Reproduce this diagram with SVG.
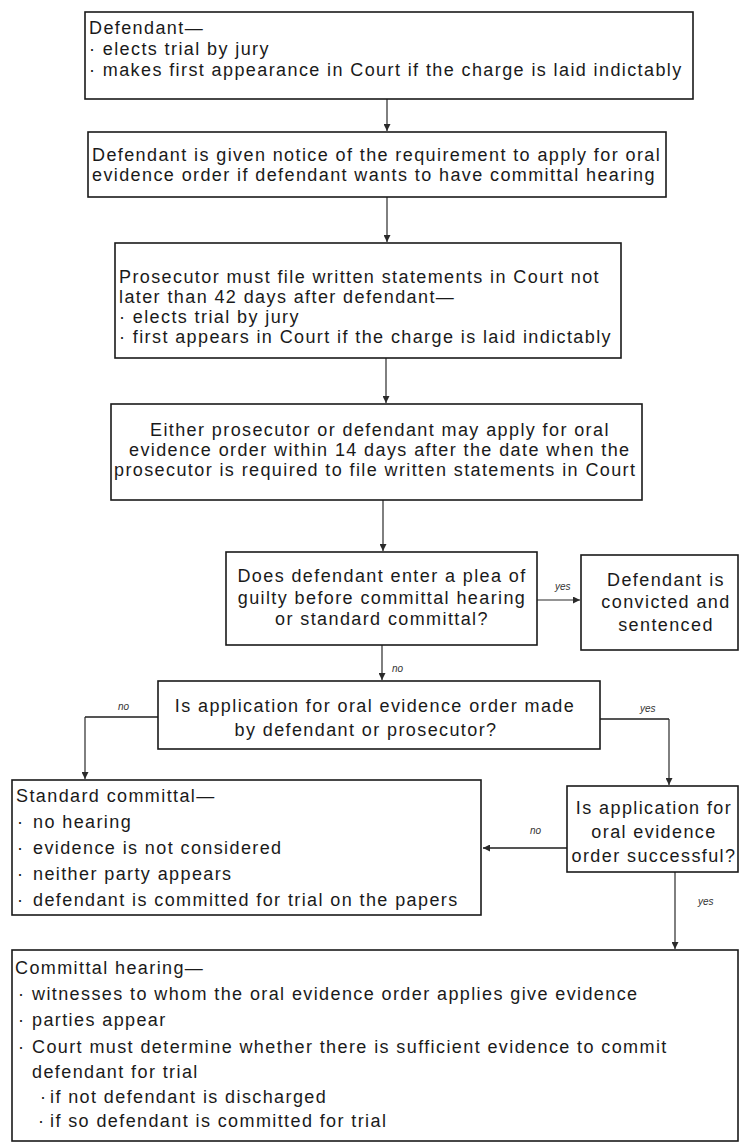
<svg xmlns="http://www.w3.org/2000/svg" width="740" height="1144" viewBox="0 0 740 1144">
<style>
.box{fill:#fff;stroke:#1a1a1a;stroke-width:1.6}
.t{font-family:"Liberation Sans",Arial,sans-serif;font-size:18px;letter-spacing:1.4px;fill:#1a1a1a}
.c{text-anchor:middle}
.conn{stroke:#2a2a2a;stroke-width:1.2;fill:none}
.dbl{stroke:#555;stroke-width:2}
.lbl{font-family:"Liberation Sans",Arial,sans-serif;font-size:10px;font-style:italic;fill:#333}
</style>
<defs>
<marker id="ah" markerUnits="userSpaceOnUse" markerWidth="8" markerHeight="7" refX="7" refY="3.5" orient="auto">
<path d="M0,0 L7,3.5 L0,7 z" fill="#2a2a2a"/>
</marker>
</defs>
<rect width="740" height="1144" fill="#fff"/>

<g id="connectors">
<line class="conn" x1="387" y1="99" x2="387" y2="131" marker-end="url(#ah)"/>
<line class="conn" x1="387" y1="197" x2="387" y2="242" marker-end="url(#ah)"/>
<line class="conn" x1="386" y1="358" x2="386" y2="403" marker-end="url(#ah)"/>
<line class="conn" x1="383" y1="500" x2="383" y2="551" marker-end="url(#ah)"/>
<line class="conn" x1="537" y1="600" x2="580" y2="600" marker-end="url(#ah)"/>
<text class="lbl" x="555" y="590">yes</text>
<line class="conn" x1="382" y1="645" x2="382" y2="680" marker-end="url(#ah)"/>
<text class="lbl" x="392" y="672">no</text>
<polyline class="conn dbl" points="158,717 85,717"/>
<line class="conn" x1="85" y1="717" x2="85" y2="779" marker-end="url(#ah)"/>
<text class="lbl" x="118" y="710">no</text>
<polyline class="conn dbl" points="600,719 669,719"/>
<line class="conn" x1="669" y1="719" x2="669" y2="785" marker-end="url(#ah)"/>
<text class="lbl" x="640" y="712">yes</text>
<line class="conn dbl" x1="567" y1="848" x2="483" y2="848" marker-end="url(#ah)"/>
<text class="lbl" x="530" y="834">no</text>
<line class="conn" x1="675" y1="872" x2="675" y2="949" marker-end="url(#ah)"/>
<text class="lbl" x="698" y="905">yes</text>
</g>

<g id="n1">
<rect class="box" x="85" y="12" width="608" height="87"/>
<text class="t" x="89" y="34">Defendant—</text>
<text class="t" x="89" y="55">· elects trial by jury</text>
<text class="t" x="89" y="76">· makes first appearance in Court if the charge is laid indictably</text>
</g>

<g id="n2">
<rect class="box" x="88" y="132" width="578" height="65"/>
<text class="t" x="92" y="161">Defendant is given notice of the requirement to apply for oral</text>
<text class="t" x="92" y="181">evidence order if defendant wants to have committal hearing</text>
</g>

<g id="n3">
<rect class="box" x="115" y="243" width="506" height="115"/>
<text class="t" x="119" y="283">Prosecutor must file written statements in Court not</text>
<text class="t" x="119" y="303">later than 42 days after defendant—</text>
<text class="t" x="119" y="323">· elects trial by jury</text>
<text class="t" x="119" y="343">· first appears in Court if the charge is laid indictably</text>
</g>

<g id="n4">
<rect class="box" x="111" y="404" width="531" height="96"/>
<text class="t" x="150" y="436">Either prosecutor or defendant may apply for oral</text>
<text class="t" x="129" y="456">evidence order within 14 days after the date when the</text>
<text class="t" x="114" y="476">prosecutor is required to file written statements in Court</text>
</g>

<g id="n5">
<rect class="box" x="226" y="552" width="311" height="93"/>
<text class="t c" x="382" y="582">Does defendant enter a plea of</text>
<text class="t c" x="382" y="604">guilty before committal hearing</text>
<text class="t c" x="382" y="625">or standard committal?</text>
</g>

<g id="n6">
<rect class="box" x="581" y="555" width="157" height="95"/>
<text class="t c" x="666" y="586">Defendant is</text>
<text class="t c" x="666" y="608">convicted and</text>
<text class="t c" x="666" y="631">sentenced</text>
</g>

<g id="n7">
<rect class="box" x="158" y="681" width="442" height="68"/>
<text class="t c" x="375" y="712">Is application for oral evidence order made</text>
<text class="t c" x="366" y="736">by defendant or prosecutor?</text>
</g>

<g id="n8">
<rect class="box" x="12" y="780" width="469" height="135"/>
<text class="t" x="16" y="802">Standard committal—</text>
<text class="t"><tspan x="17" y="828">·</tspan><tspan x="33" y="828">no hearing</tspan></text>
<text class="t"><tspan x="17" y="854">·</tspan><tspan x="33" y="854">evidence is not considered</tspan></text>
<text class="t"><tspan x="17" y="880">·</tspan><tspan x="33" y="880">neither party appears</tspan></text>
<text class="t"><tspan x="17" y="906">·</tspan><tspan x="33" y="906">defendant is committed for trial on the papers</tspan></text>
</g>

<g id="n9">
<rect class="box" x="567" y="786" width="171" height="86"/>
<text class="t c" x="654" y="814">Is application for</text>
<text class="t c" x="654" y="838">oral evidence</text>
<text class="t c" x="654" y="862">order successful?</text>
</g>

<g id="n10">
<rect class="box" x="12" y="950" width="726" height="191"/>
<text class="t" x="15" y="974">Committal hearing—</text>
<text class="t"><tspan x="18" y="1000">·</tspan><tspan x="32" y="1000">witnesses to whom the oral evidence order applies give evidence</tspan></text>
<text class="t"><tspan x="18" y="1026">·</tspan><tspan x="32" y="1026">parties appear</tspan></text>
<text class="t"><tspan x="18" y="1053">·</tspan><tspan x="32" y="1053">Court must determine whether there is sufficient evidence to commit</tspan></text>
<text class="t" x="32" y="1078">defendant for trial</text>
<text class="t"><tspan x="40" y="1103">·</tspan><tspan x="50" y="1103">if not defendant is discharged</tspan></text>
<text class="t"><tspan x="38" y="1127">·</tspan><tspan x="50" y="1127">if so defendant is committed for trial</tspan></text>
</g>
</svg>
